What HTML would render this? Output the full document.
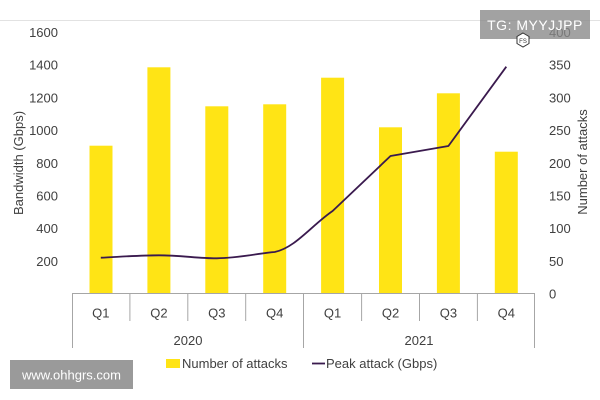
<!DOCTYPE html>
<html><head><meta charset="utf-8"><style>
html,body{margin:0;padding:0;background:#fff;}
svg{display:block;font-family:"Liberation Sans",sans-serif;}
</style></head><body>
<svg width="600" height="400" viewBox="0 0 600 400" xmlns="http://www.w3.org/2000/svg">
<rect width="600" height="400" fill="#fff"/>
<line x1="0" y1="20.5" x2="600" y2="20.5" stroke="#e2e2e2" stroke-width="1"/>
<!-- bars -->
<g fill="#FFE415">
<rect x="89.5" y="145.7" width="23" height="147.8"/>
<rect x="147.4" y="67.3" width="23" height="226.2"/>
<rect x="205.3" y="106.3" width="23" height="187.2"/>
<rect x="263.2" y="104.3" width="23" height="189.2"/>
<rect x="321.1" y="77.7" width="23" height="215.8"/>
<rect x="379.0" y="127.3" width="23" height="166.2"/>
<rect x="436.9" y="93.3" width="23" height="200.2"/>
<rect x="494.8" y="151.7" width="23" height="141.8"/>
</g>
<!-- line -->
<path d="M100.8,257.7 C120,256.8 140,255.3 158.9,255.3 C180,255.3 200,258.5 216.8,258.3 C240,258 260,253 274.7,252 C295,248 312,225 332.6,211 L390.5,156 L448.4,146 L506.3,66.7" fill="none" stroke="#3a1a4e" stroke-width="1.8" stroke-linejoin="round"/>
<!-- axis -->
<g stroke="#a6a6a6" stroke-width="1">
<line x1="72" y1="293.5" x2="535" y2="293.5"/>
<line x1="72.5" y1="293.5" x2="72.5" y2="348"/>
<line x1="303.5" y1="293.5" x2="303.5" y2="348"/>
<line x1="534.5" y1="293.5" x2="534.5" y2="348"/>
<line x1="129.9" y1="293.5" x2="129.9" y2="321"/>
<line x1="187.8" y1="293.5" x2="187.8" y2="321"/>
<line x1="245.7" y1="293.5" x2="245.7" y2="321"/>
<line x1="361.6" y1="293.5" x2="361.6" y2="321"/>
<line x1="419.5" y1="293.5" x2="419.5" y2="321"/>
<line x1="477.4" y1="293.5" x2="477.4" y2="321"/>
</g>
<g font-size="13" fill="#404040">
<g text-anchor="end">
<text x="58" y="37">1600</text>
<text x="58" y="69.7">1400</text>
<text x="58" y="102.4">1200</text>
<text x="58" y="135.1">1000</text>
<text x="58" y="167.8">800</text>
<text x="58" y="200.5">600</text>
<text x="58" y="233.2">400</text>
<text x="58" y="265.9">200</text>
</g>
<g text-anchor="start">
<text x="549" y="37">400</text>
<text x="549" y="69.7">350</text>
<text x="549" y="102.4">300</text>
<text x="549" y="135.1">250</text>
<text x="549" y="167.8">200</text>
<text x="549" y="200.5">150</text>
<text x="549" y="233.2">100</text>
<text x="549" y="265.9">50</text>
<text x="549" y="298.6">0</text>
</g>
<g text-anchor="middle">
<text x="100.8" y="317.5">Q1</text>
<text x="158.9" y="317.5">Q2</text>
<text x="216.8" y="317.5">Q3</text>
<text x="274.7" y="317.5">Q4</text>
<text x="332.6" y="317.5">Q1</text>
<text x="390.5" y="317.5">Q2</text>
<text x="448.4" y="317.5">Q3</text>
<text x="506.3" y="317.5">Q4</text>
<text x="188" y="345">2020</text>
<text x="419" y="345">2021</text>
</g>
<text transform="translate(23,163) rotate(-90)" text-anchor="middle">Bandwidth (Gbps)</text>
<text transform="translate(587,162) rotate(-90)" text-anchor="middle">Number of attacks</text>
<rect x="166" y="359" width="14" height="9" fill="#FFE415"/>
<text x="182" y="368">Number of attacks</text>
<line x1="312" y1="363.5" x2="325" y2="363.5" stroke="#3a1a4e" stroke-width="1.8"/>
<text x="326" y="368">Peak attack (Gbps)</text>
</g>
<!-- watermarks -->
<rect x="480" y="10" width="110" height="29" fill="#888" fill-opacity="0.78"/>
<text x="535" y="30" text-anchor="middle" font-size="14" fill="#fff" letter-spacing="0.5">TG: MYYJJPP</text>
<polygon points="523,33 529,36.5 529,43.5 523,47 517,43.5 517,36.5" fill="#fff" stroke="#333" stroke-width="1"/>
<text x="523" y="43" text-anchor="middle" font-size="6" fill="#333">FS</text>
<rect x="10" y="360" width="123" height="29" fill="#9a9a9a"/>
<text x="71.5" y="379.5" text-anchor="middle" font-size="13" fill="#fff">www.ohhgrs.com</text>
</svg>
</body></html>
